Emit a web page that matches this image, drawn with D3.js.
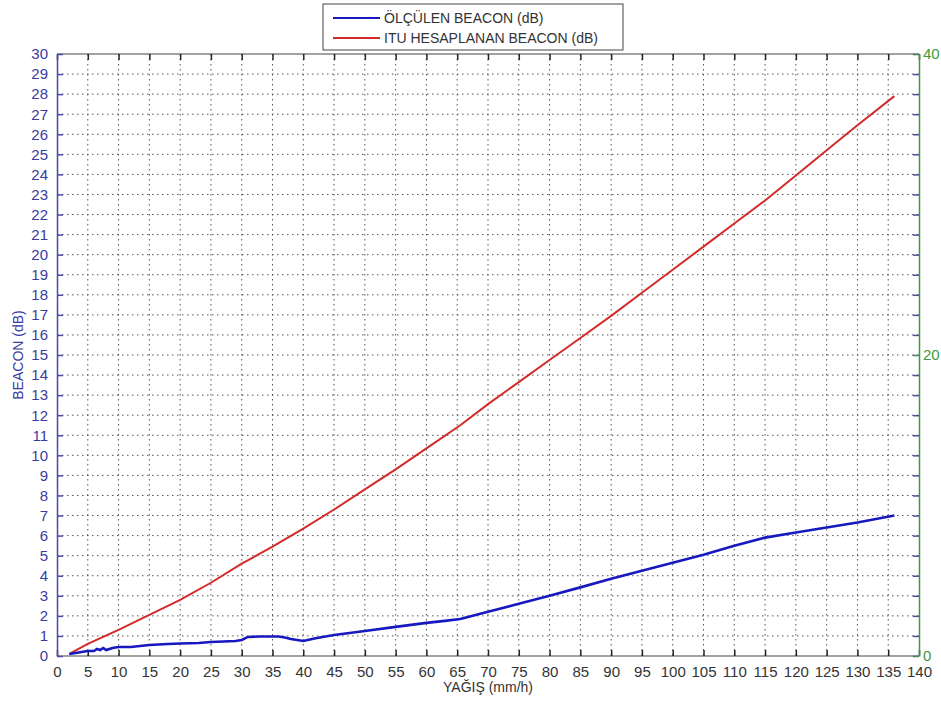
<!DOCTYPE html>
<html><head><meta charset="utf-8">
<script src="https://cdn.jsdelivr.net/npm/d3@7"></script>
<style>body{margin:0;background:#fff}svg{display:block}text{font-family:"Liberation Sans",Arial,sans-serif}</style>
</head><body><svg id="c" width="941" height="701"></svg>
<script>
const seriesNames = ["ÖLÇÜLEN BEACON (dB)", "ITU HESAPLANAN BEACON (dB)"];
const measuredX = [2,3,4,5,6,6.5,7,7.5,8,9,10,12,15,18,20,23,25,27,29,30,31,33,36,37,38,40,42,45,50,55,60,63,65.5,70,75,80,85,90,95,100,105,110,115,120,125,130,136];
const measuredY = [0.1,0.15,0.2,0.25,0.25,0.35,0.3,0.4,0.3,0.4,0.45,0.45,0.55,0.6,0.62,0.65,0.7,0.72,0.75,0.8,0.95,0.97,0.97,0.92,0.85,0.75,0.88,1.05,1.25,1.45,1.65,1.75,1.84,2.2,2.6,3.0,3.42,3.85,4.25,4.65,5.05,5.5,5.9,6.15,6.4,6.65,7.0];
const ituX = [2,5,10,15,20,25,30,35,40,45,50,55,60,65.5,70,75,80,85,90,95,100,105,110,115,120,125,130,136];
const ituY = [0.1,0.6,1.3,2.05,2.8,3.65,4.6,5.45,6.35,7.3,8.3,9.3,10.35,11.5,12.55,13.65,14.75,15.85,16.95,18.1,19.25,20.4,21.55,22.7,23.95,25.2,26.45,27.9];
const xTicks = d3.range(0,141,5);
const yTicks = d3.range(0,31,1);
const y2Ticks = [0,20,40];

const svg = d3.select("#c");
const L=57,R=919,T=54,B=656;
const x = d3.scaleLinear().domain([0,140]).range([L,R]);
const y = d3.scaleLinear().domain([0,30]).range([B,T]);
const y2 = d3.scaleLinear().domain([0,40]).range([B,T]);
const blueTxt="#3a3aa0", green="#3c9a3c";

// grid
const g = svg.append("g");
g.selectAll(".gx").data(xTicks.slice(1,-1)).join("line")
 .attr("x1",d=>x(d)).attr("x2",d=>x(d)).attr("y1",T).attr("y2",B)
 .attr("stroke","#555").attr("stroke-width",1).attr("stroke-dasharray","1.5,3.5");
g.selectAll(".gy").data(yTicks.slice(1,-1)).join("line")
 .attr("y1",d=>y(d)).attr("y2",d=>y(d)).attr("x1",L).attr("x2",R)
 .attr("stroke","#555").attr("stroke-width",1).attr("stroke-dasharray","1.5,3.5");

// frame
svg.append("line").attr("x1",L).attr("x2",R).attr("y1",T).attr("y2",T).attr("stroke","#444");
svg.append("line").attr("x1",L).attr("x2",R).attr("y1",B).attr("y2",B).attr("stroke","#444");

// x axis bottom (inner ticks)
const xa = svg.append("g").attr("transform",`translate(0,${B})`)
 .call(d3.axisBottom(x).tickValues(xTicks).tickSizeInner(-6).tickSizeOuter(0).tickPadding(10));
xa.select(".domain").remove();
xa.selectAll("line").attr("stroke","#222").attr("stroke-width",1.5);
xa.selectAll("text").attr("fill","#333").attr("font-size",15);
// top ticks
const xt = svg.append("g").attr("transform",`translate(0,${T})`)
 .call(d3.axisTop(x).tickValues(xTicks).tickSizeInner(-6).tickSizeOuter(0).tickFormat(""));
xt.select(".domain").remove();
xt.selectAll("line").attr("stroke","#222").attr("stroke-width",1.5);

// left axis
const ya = svg.append("g").attr("transform",`translate(${L},0)`)
 .call(d3.axisLeft(y).tickValues(yTicks).tickSizeInner(-6).tickSizeOuter(0).tickPadding(9));
ya.select(".domain").attr("stroke","#4a4aa8").attr("stroke-width",1.5);
ya.selectAll("line").attr("stroke","#4a4aa8").attr("stroke-width",1.5);
ya.selectAll("text").attr("fill",blueTxt).attr("font-size",15);
// right mirror ticks of left axis
const yr = svg.append("g").attr("transform",`translate(${R},0)`)
 .call(d3.axisRight(y).tickValues(yTicks).tickSizeInner(-6).tickSizeOuter(0).tickFormat(""));
yr.select(".domain").remove();
yr.selectAll("line").attr("stroke","#4a4aa8").attr("stroke-width",1.5);

// right axis (green)
const y2a = svg.append("g").attr("transform",`translate(${R},0)`)
 .call(d3.axisRight(y2).tickValues(y2Ticks).tickSizeInner(-5).tickSizeOuter(0).tickPadding(4));
y2a.select(".domain").attr("stroke",green).attr("stroke-width",1.5);
y2a.selectAll("line").attr("stroke",green);
y2a.selectAll("text").attr("fill",green).attr("font-size",15);

// lines
const line = d3.line().x(d=>x(d[0])).y(d=>y(d[1]));
svg.append("path").datum(ituX.map((v,i)=>[v,ituY[i]])).attr("d",line)
 .attr("fill","none").attr("stroke","#d42a2a").attr("stroke-width",2);
svg.append("path").datum(measuredX.map((v,i)=>[v,measuredY[i]])).attr("d",line)
 .attr("fill","none").attr("stroke","#1818c0").attr("stroke-width",2.6);

// labels
svg.append("text").attr("x",(L+R)/2).attr("y",692).attr("text-anchor","middle")
 .attr("font-size",14).attr("fill","#333").text("YAĞIŞ (mm/h)");
svg.append("text").attr("transform",`translate(23,${(T+B)/2}) rotate(-90)`).attr("text-anchor","middle")
 .attr("font-size",14).attr("fill",blueTxt).text("BEACON (dB)");

// legend
const lg = svg.append("g");
lg.append("rect").attr("x",323).attr("y",4).attr("width",300).attr("height",46)
 .attr("fill","#fff").attr("stroke","#444").attr("stroke-width",1);
const colors=["#1818c0","#d42a2a"];
seriesNames.forEach((n,i)=>{
  const yy = 18 + i*20;
  lg.append("line").attr("x1",333).attr("x2",380).attr("y1",yy).attr("y2",yy)
   .attr("stroke",colors[i]).attr("stroke-width",2);
  lg.append("text").attr("x",384).attr("y",yy+5).attr("font-size",14).attr("fill","#333").text(n);
});
</script></body></html>
